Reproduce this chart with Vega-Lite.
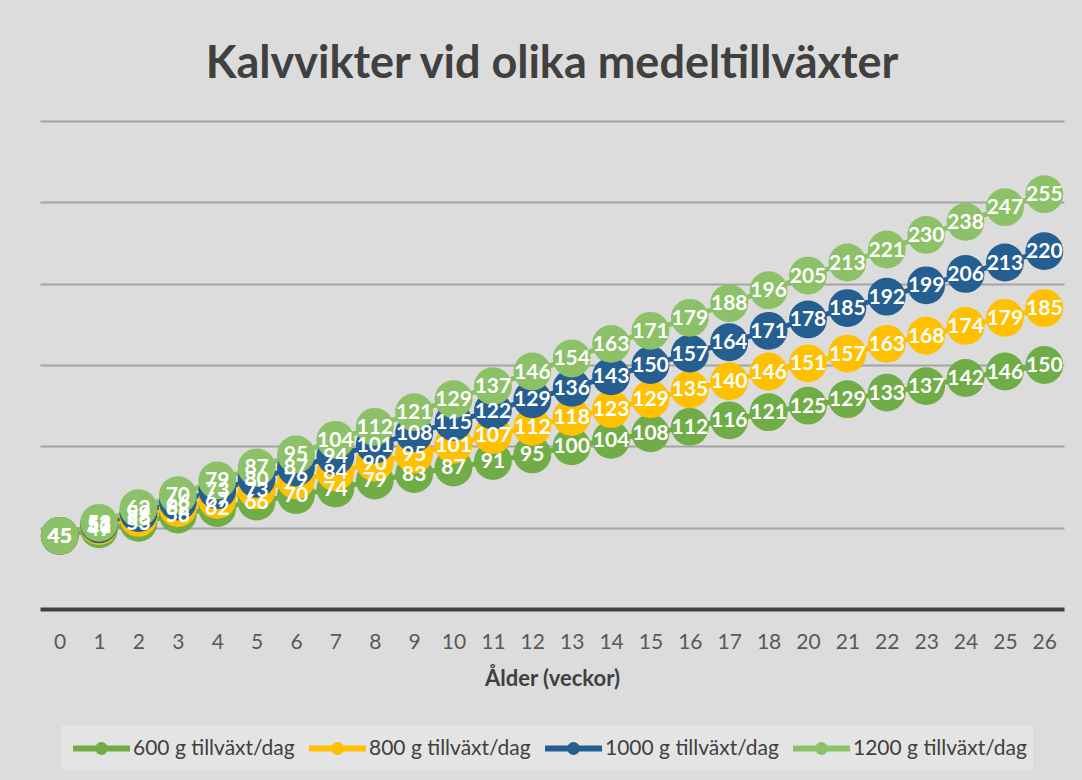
{
  "$schema": "https://vega.github.io/schema/vega-lite/v6.json",
  "width": 1024,
  "height": 488,
  "autosize": {"type": "none"},
  "padding": {"left": 40, "top": 121, "right": 18, "bottom": 171},
  "background": "#dcdcdc",
  "title": {
    "text": "Kalvvikter vid olika medeltillväxter",
    "font": "Lato",
    "fontSize": 45,
    "fontWeight": "bold",
    "color": "#404040",
    "anchor": "middle",
    "offset": 34
  },
  "data": {
    "values": [
      {"s": "600 g tillväxt/dag", "w": 0, "v": 45}, {"s": "600 g tillväxt/dag", "w": 1, "v": 49}, {"s": "600 g tillväxt/dag", "w": 2, "v": 53}, {"s": "600 g tillväxt/dag", "w": 3, "v": 58}, {"s": "600 g tillväxt/dag", "w": 4, "v": 62}, {"s": "600 g tillväxt/dag", "w": 5, "v": 66}, {"s": "600 g tillväxt/dag", "w": 6, "v": 70}, {"s": "600 g tillväxt/dag", "w": 7, "v": 74}, {"s": "600 g tillväxt/dag", "w": 8, "v": 79}, {"s": "600 g tillväxt/dag", "w": 9, "v": 83}, {"s": "600 g tillväxt/dag", "w": 10, "v": 87}, {"s": "600 g tillväxt/dag", "w": 11, "v": 91}, {"s": "600 g tillväxt/dag", "w": 12, "v": 95}, {"s": "600 g tillväxt/dag", "w": 13, "v": 100}, {"s": "600 g tillväxt/dag", "w": 14, "v": 104}, {"s": "600 g tillväxt/dag", "w": 15, "v": 108}, {"s": "600 g tillväxt/dag", "w": 16, "v": 112}, {"s": "600 g tillväxt/dag", "w": 17, "v": 116}, {"s": "600 g tillväxt/dag", "w": 18, "v": 121}, {"s": "600 g tillväxt/dag", "w": 20, "v": 125}, {"s": "600 g tillväxt/dag", "w": 21, "v": 129}, {"s": "600 g tillväxt/dag", "w": 22, "v": 133}, {"s": "600 g tillväxt/dag", "w": 23, "v": 137}, {"s": "600 g tillväxt/dag", "w": 24, "v": 142}, {"s": "600 g tillväxt/dag", "w": 25, "v": 146}, {"s": "600 g tillväxt/dag", "w": 26, "v": 150},
      {"s": "800 g tillväxt/dag", "w": 0, "v": 45}, {"s": "800 g tillväxt/dag", "w": 1, "v": 51}, {"s": "800 g tillväxt/dag", "w": 2, "v": 56}, {"s": "800 g tillväxt/dag", "w": 3, "v": 62}, {"s": "800 g tillväxt/dag", "w": 4, "v": 67}, {"s": "800 g tillväxt/dag", "w": 5, "v": 73}, {"s": "800 g tillväxt/dag", "w": 6, "v": 79}, {"s": "800 g tillväxt/dag", "w": 7, "v": 84}, {"s": "800 g tillväxt/dag", "w": 8, "v": 90}, {"s": "800 g tillväxt/dag", "w": 9, "v": 95}, {"s": "800 g tillväxt/dag", "w": 10, "v": 101}, {"s": "800 g tillväxt/dag", "w": 11, "v": 107}, {"s": "800 g tillväxt/dag", "w": 12, "v": 112}, {"s": "800 g tillväxt/dag", "w": 13, "v": 118}, {"s": "800 g tillväxt/dag", "w": 14, "v": 123}, {"s": "800 g tillväxt/dag", "w": 15, "v": 129}, {"s": "800 g tillväxt/dag", "w": 16, "v": 135}, {"s": "800 g tillväxt/dag", "w": 17, "v": 140}, {"s": "800 g tillväxt/dag", "w": 18, "v": 146}, {"s": "800 g tillväxt/dag", "w": 20, "v": 151}, {"s": "800 g tillväxt/dag", "w": 21, "v": 157}, {"s": "800 g tillväxt/dag", "w": 22, "v": 163}, {"s": "800 g tillväxt/dag", "w": 23, "v": 168}, {"s": "800 g tillväxt/dag", "w": 24, "v": 174}, {"s": "800 g tillväxt/dag", "w": 25, "v": 179}, {"s": "800 g tillväxt/dag", "w": 26, "v": 185},
      {"s": "1000 g tillväxt/dag", "w": 0, "v": 45}, {"s": "1000 g tillväxt/dag", "w": 1, "v": 52}, {"s": "1000 g tillväxt/dag", "w": 2, "v": 59}, {"s": "1000 g tillväxt/dag", "w": 3, "v": 66}, {"s": "1000 g tillväxt/dag", "w": 4, "v": 73}, {"s": "1000 g tillväxt/dag", "w": 5, "v": 80}, {"s": "1000 g tillväxt/dag", "w": 6, "v": 87}, {"s": "1000 g tillväxt/dag", "w": 7, "v": 94}, {"s": "1000 g tillväxt/dag", "w": 8, "v": 101}, {"s": "1000 g tillväxt/dag", "w": 9, "v": 108}, {"s": "1000 g tillväxt/dag", "w": 10, "v": 115}, {"s": "1000 g tillväxt/dag", "w": 11, "v": 122}, {"s": "1000 g tillväxt/dag", "w": 12, "v": 129}, {"s": "1000 g tillväxt/dag", "w": 13, "v": 136}, {"s": "1000 g tillväxt/dag", "w": 14, "v": 143}, {"s": "1000 g tillväxt/dag", "w": 15, "v": 150}, {"s": "1000 g tillväxt/dag", "w": 16, "v": 157}, {"s": "1000 g tillväxt/dag", "w": 17, "v": 164}, {"s": "1000 g tillväxt/dag", "w": 18, "v": 171}, {"s": "1000 g tillväxt/dag", "w": 20, "v": 178}, {"s": "1000 g tillväxt/dag", "w": 21, "v": 185}, {"s": "1000 g tillväxt/dag", "w": 22, "v": 192}, {"s": "1000 g tillväxt/dag", "w": 23, "v": 199}, {"s": "1000 g tillväxt/dag", "w": 24, "v": 206}, {"s": "1000 g tillväxt/dag", "w": 25, "v": 213}, {"s": "1000 g tillväxt/dag", "w": 26, "v": 220},
      {"s": "1200 g tillväxt/dag", "w": 0, "v": 45}, {"s": "1200 g tillväxt/dag", "w": 1, "v": 53}, {"s": "1200 g tillväxt/dag", "w": 2, "v": 62}, {"s": "1200 g tillväxt/dag", "w": 3, "v": 70}, {"s": "1200 g tillväxt/dag", "w": 4, "v": 79}, {"s": "1200 g tillväxt/dag", "w": 5, "v": 87}, {"s": "1200 g tillväxt/dag", "w": 6, "v": 95}, {"s": "1200 g tillväxt/dag", "w": 7, "v": 104}, {"s": "1200 g tillväxt/dag", "w": 8, "v": 112}, {"s": "1200 g tillväxt/dag", "w": 9, "v": 121}, {"s": "1200 g tillväxt/dag", "w": 10, "v": 129}, {"s": "1200 g tillväxt/dag", "w": 11, "v": 137}, {"s": "1200 g tillväxt/dag", "w": 12, "v": 146}, {"s": "1200 g tillväxt/dag", "w": 13, "v": 154}, {"s": "1200 g tillväxt/dag", "w": 14, "v": 163}, {"s": "1200 g tillväxt/dag", "w": 15, "v": 171}, {"s": "1200 g tillväxt/dag", "w": 16, "v": 179}, {"s": "1200 g tillväxt/dag", "w": 17, "v": 188}, {"s": "1200 g tillväxt/dag", "w": 18, "v": 196}, {"s": "1200 g tillväxt/dag", "w": 20, "v": 205}, {"s": "1200 g tillväxt/dag", "w": 21, "v": 213}, {"s": "1200 g tillväxt/dag", "w": 22, "v": 221}, {"s": "1200 g tillväxt/dag", "w": 23, "v": 230}, {"s": "1200 g tillväxt/dag", "w": 24, "v": 238}, {"s": "1200 g tillväxt/dag", "w": 25, "v": 247}, {"s": "1200 g tillväxt/dag", "w": 26, "v": 255}
    ]
  },
  "encoding": {
    "x": {
      "field": "w",
      "type": "ordinal",
      "scale": {"padding": 0.5},
      "axis": {
        "title": "Ålder (veckor)",
        "labelAngle": 0,
        "labelFont": "Lato",
        "labelFontSize": 21,
        "labelColor": "#595959",
        "labelPadding": 22,
        "ticks": false,
        "grid": false,
        "domainColor": "#404040",
        "domainWidth": 4,
        "titleFont": "Lato",
        "titleFontSize": 22,
        "titleFontWeight": "bold",
        "titleColor": "#404040",
        "titlePadding": 16
      }
    },
    "y": {
      "field": "v",
      "type": "quantitative",
      "scale": {"domain": [0, 300], "nice": false, "zero": true},
      "axis": {
        "title": null,
        "labels": false,
        "ticks": false,
        "domain": false,
        "grid": true,
        "values": [50, 100, 150, 200, 250, 300],
        "gridColor": "#a3a3a3",
        "gridWidth": 2
      }
    }
  },
  "layer": [
    {
      "mark": {"type": "line", "strokeWidth": 5},
      "encoding": {
        "color": {
          "field": "s",
          "type": "nominal",
          "sort": null,
          "scale": {
            "domain": ["600 g tillväxt/dag", "800 g tillväxt/dag", "1000 g tillväxt/dag", "1200 g tillväxt/dag"],
            "range": ["#70ad47", "#ffc000", "#255e91", "#8cc168"]
          },
          "legend": {
            "title": null,
            "orient": "none",
            "legendX": 22,
            "legendY": 604,
            "direction": "horizontal",
            "columns": 4,
            "fillColor": "#e4e4e4",
            "padding": 6,
            "columnPadding": 2,
            "symbolOffset": 16,
            "labelOffset": 14,
            "labelLimit": 400,
            "labelFont": "Lato",
            "labelFontSize": 21,
            "labelColor": "#404040",
            "symbolType": "M-2,0H2M-0.24,0A0.24,0.24,0,1,1,0.24,0A0.24,0.24,0,1,1,-0.24,0Z",
            "symbolSize": 812,
            "symbolStrokeWidth": 6,
            "encode": {
              "symbols": {
                "update": {
                  "fill": {"scale": "color", "field": "value"},
                  "stroke": {"scale": "color", "field": "value"},
                  "strokeWidth": {"value": 6},
                  "opacity": {"value": 1}
                }
              }
            }
          }
        }
      }
    },
    {
      "mark": {"type": "circle", "size": 1430, "opacity": 1},
      "encoding": {
        "color": {"field": "s", "type": "nominal", "sort": null}
      }
    },
    {
      "mark": {
        "type": "text",
        "font": "Lato",
        "fontSize": 21,
        "fontWeight": "bold",
        "color": "#ffffff",
        "baseline": "middle",
        "align": "center",
        "dy": 1
      },
      "encoding": {
        "text": {"field": "v", "type": "quantitative"}
      }
    }
  ],
  "config": {
    "view": {"stroke": null}
  }
}
